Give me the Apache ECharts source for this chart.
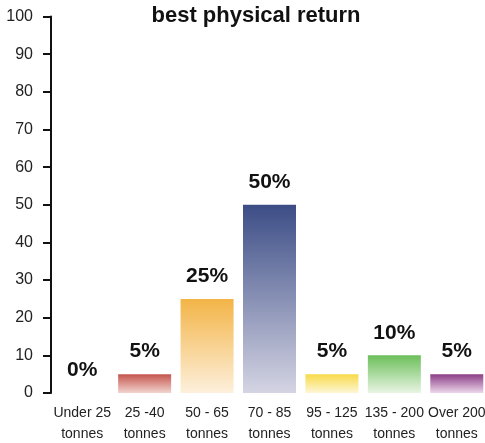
<!DOCTYPE html>
<html>
<head>
<meta charset="utf-8">
<script src="https://cdn.jsdelivr.net/npm/echarts@6/dist/echarts.min.js"></script>
<style>
  html, body { margin: 0; padding: 0; background: #fff; }
  #chart { width: 485px; height: 443px; }
</style>
</head>
<body>
<div id="chart"></div>
<script>
// Herd size bands and share of farms in each band (%)
const categories = ['Under 25\ntonnes', '25 -40\ntonnes', '50 - 65\ntonnes', '70 - 85\ntonnes', '95 - 125\ntonnes', '135 - 200\ntonnes', 'Over 200\ntonnes'];
const shares = [0, 5, 25, 50, 5, 10, 5];
const yTicks = [0, 10, 20, 30, 40, 50, 60, 70, 80, 90, 100];

// Gradient colours per bar: [top, bottom]
const palette = [
  ['#c0c0c0', '#f0f0f0'],
  ['#c4554c', '#f2d4cf'],
  ['#f3b447', '#fdf0dc'],
  ['#3c4d86', '#d4d4e3'],
  ['#f8da47', '#fdf6d6'],
  ['#6cbf5b', '#e9f5e3'],
  ['#8b3d86', '#ecd6ea']
];

const chart = echarts.init(document.getElementById('chart'), null, { renderer: 'canvas' });

const sans = '"Liberation Sans", Arial, sans-serif';

chart.setOption({
  animation: false,
  title: {
    text: 'best physical return',
    left: 251,
    textAlign: 'center',
    top: 0,
    textStyle: { fontFamily: sans, fontWeight: 'bold', fontSize: 22, color: '#111' }
  },
  grid: { left: 51, top: 16.5, bottom: 50, width: 437, containLabel: false, outerBoundsMode: 'none' },
  xAxis: {
    type: 'category',
    data: categories,
    axisLine: { show: false },
    axisTick: { show: false },
    axisLabel: {
      interval: 0,
      margin: 10,
      fontFamily: sans,
      fontSize: 14,
      lineHeight: 21,
      color: '#222'
    }
  },
  yAxis: {
    type: 'value',
    min: yTicks[0],
    max: yTicks[yTicks.length - 1],
    interval: 10,
    splitLine: { show: false },
    axisLine: { show: true, lineStyle: { color: '#111', width: 2 } },
    axisTick: { show: true, length: 8, lineStyle: { color: '#111', width: 2 } },
    axisLabel: {
      margin: 18,
      fontFamily: sans,
      fontSize: 16,
      color: '#222'
    }
  },
  series: [{
    type: 'bar',
    barWidth: 53,
    data: shares.map((v, i) => ({
      value: v,
      itemStyle: {
        color: new echarts.graphic.LinearGradient(0, 0, 0, 1, [
          { offset: 0, color: palette[i][0] },
          { offset: 1, color: palette[i][1] }
        ])
      }
    })),
    label: {
      show: true,
      position: 'top',
      distance: 12,
      formatter: p => p.value + '%',
      fontFamily: sans,
      fontWeight: 'bold',
      fontSize: 21,
      color: '#111'
    }
  }]
});
</script>
</body>
</html>
